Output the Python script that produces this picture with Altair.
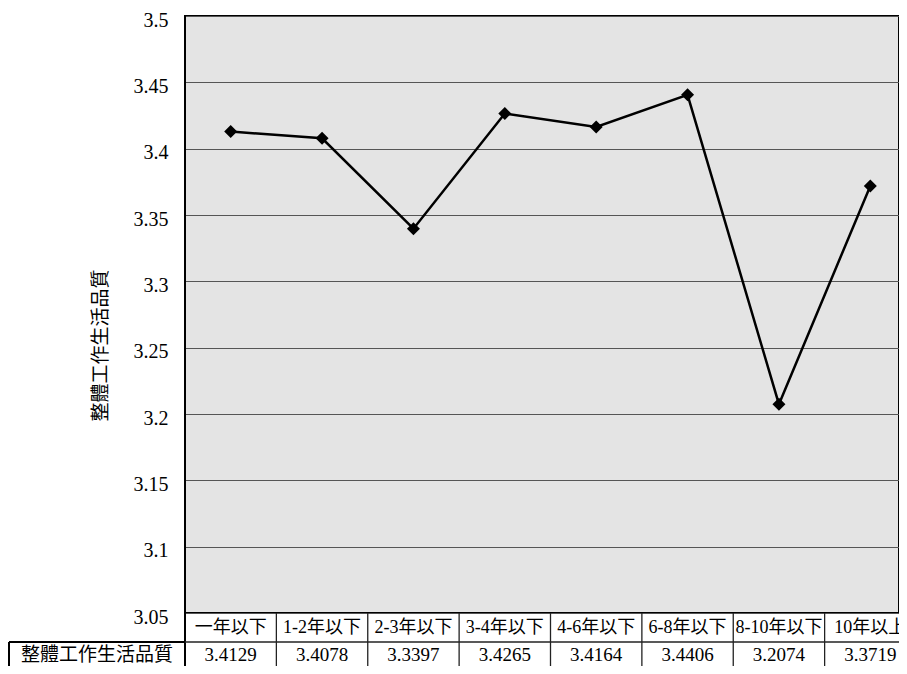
import altair as alt
import pandas as pd

cats = ["一年以下", "1-2年以下", "2-3年以下", "3-4年以下", "4-6年以下", "6-8年以下", "8-10年以下", "10年以上"]
vals = [3.4129, 3.4078, 3.3397, 3.4265, 3.4164, 3.4406, 3.2074, 3.3719]
yticks = [3.05, 3.1, 3.15, 3.2, 3.25, 3.3, 3.35, 3.4, 3.45, 3.5]
series_name = "整體工作生活品質"

df = pd.DataFrame({"cat": cats, "val": vals, "label": [f"{v:.4f}" for v in vals]})

FONT_NUM = "Liberation Serif"
FONT_MIX = "Liberation Serif, Noto Sans CJK TC"
W, H = 714, 597      # visible plot area
BANDW = 731          # full band range (last band runs past the page edge)
ROW = 626            # y of the line between the two table rows

xs = alt.Scale(type="band", domain=cats, paddingInner=0, paddingOuter=0, range=[0, BANDW])
ys = alt.Scale(domain=[3.05, 3.5], zero=False, nice=False)

base = alt.Chart(df)

line = base.mark_line(color="black", strokeWidth=2.5).encode(
    x=alt.X("cat:N", scale=xs, sort=cats, axis=None),
    y=alt.Y("val:Q", scale=ys, axis=alt.Axis(
        values=yticks, format="~g", grid=True, gridColor="#555555", gridWidth=1.2,
        domain=False, ticks=False, labelFont=FONT_NUM, labelFontSize=20, labelColor="black",
        labelPadding=17, labelOffset=4, title=series_name, titleFont=FONT_MIX, titleFontSize=19,
        titleFontWeight="normal", titleColor="black", titleAngle=270, titleBaseline="middle",
        titleX=-85, titleY=329)),
)

pts = base.mark_point(shape="diamond", filled=True, color="black", size=170, opacity=1).encode(
    x=alt.X("cat:N", scale=xs, sort=cats),
    y=alt.Y("val:Q", scale=ys),
)

cat_text = base.mark_text(font=FONT_MIX, fontSize=18, color="black", baseline="middle").encode(
    x=alt.X("cat:N", scale=xs, sort=cats),
    y=alt.value(612),
    text="cat:N",
)

val_text = base.mark_text(font=FONT_NUM, fontSize=19, color="black", baseline="middle").encode(
    x=alt.X("cat:N", scale=xs, sort=cats),
    y=alt.value(639),
    text="label:N",
)

seps = base.mark_rule(color="#222222", strokeWidth=1.3).encode(
    x=alt.X("cat:N", scale=xs, sort=cats, bandPosition=0),
    y=alt.value(H),
    y2=alt.value(670),
)

hdr = pd.DataFrame({"t": [series_name]})
left_line = alt.Chart(hdr).mark_rule(color="black", strokeWidth=2).encode(
    x=alt.value(0), y=alt.value(0), y2=alt.value(670))
row_line = alt.Chart(hdr).mark_rule(color="#222222", strokeWidth=1.6).encode(
    x=alt.value(-176), x2=alt.value(BANDW), y=alt.value(ROW))
row_line_left = alt.Chart(hdr).mark_rule(color="black", strokeWidth=2).encode(
    x=alt.value(-176), x2=alt.value(0), y=alt.value(ROW))
hdr_left = alt.Chart(hdr).mark_rule(color="black", strokeWidth=2).encode(
    x=alt.value(-176), y=alt.value(ROW), y2=alt.value(670))
hdr_text = alt.Chart(hdr).mark_text(font=FONT_MIX, fontSize=19, color="black", baseline="middle").encode(
    x=alt.value(-88), y=alt.value(639), text="t:N")

chart = alt.layer(
    line, pts, seps, cat_text, val_text, left_line, row_line, row_line_left, hdr_left, hdr_text
).properties(
    width=W, height=H,
    autosize=alt.AutoSizeParams(type="none"),
    padding={"left": 177, "top": 8, "right": 0, "bottom": 53},
    background="white",
).configure_view(fill="#e4e4e4", stroke="black", strokeWidth=2)

chart.save("out.html", embed_options={"renderer": "svg", "actions": False})
